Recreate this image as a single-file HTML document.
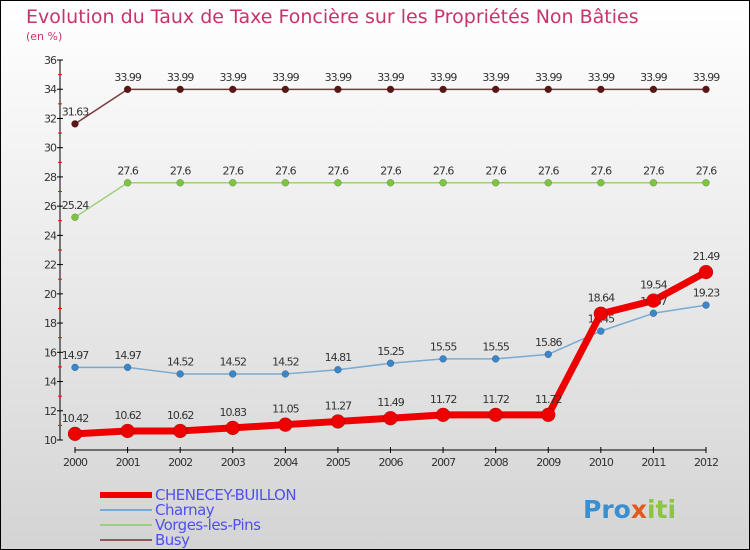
<!DOCTYPE html>
<html><head><meta charset="utf-8"><style>
body{margin:0}
#c{width:750px;height:550px;position:relative;overflow:hidden}
svg text{font-family:"DejaVu Sans","Liberation Sans",sans-serif}
</style></head><body>
<div id="c">
<svg id="s" width="750" height="550" xmlns="http://www.w3.org/2000/svg">
<defs><linearGradient id="bg" x1="0" y1="0" x2="0" y2="1"><stop offset="0" stop-color="#ffffff"/><stop offset="1" stop-color="#d4d4d4"/></linearGradient></defs>
<rect x="0.5" y="0.5" width="749" height="549" fill="url(#bg)" stroke="#000"/>
<text x="26" y="23" font-size="19" fill="#c8336a">Evolution du Taux de Taxe Foncière sur les Propriétés Non Bâties</text>
<text x="26" y="40" font-size="11" fill="#c8336a">(en %)</text>
<g id="axes"></g><g id="series"></g><g id="legend"></g>
<text x="583" y="518" font-size="25" font-weight="bold" fill="#3a8fd0">Pro<tspan fill="#e05a20">x</tspan><tspan fill="#8cc63e">iti</tspan></text>
</svg></div>
<script>
const years=["2000","2001","2002","2003","2004","2005","2006","2007","2008","2009","2010","2011","2012"];
const yTicks=[10,12,14,16,18,20,22,24,26,28,30,32,34,36];
const chenecey=[10.42,10.62,10.62,10.83,11.05,11.27,11.49,11.72,11.72,11.72,18.64,19.54,21.49];
const charnay=[14.97,14.97,14.52,14.52,14.52,14.81,15.25,15.55,15.55,15.86,17.45,18.67,19.23];
const vorges=[25.24,27.6,27.6,27.6,27.6,27.6,27.6,27.6,27.6,27.6,27.6,27.6,27.6];
const busy=[31.63,33.99,33.99,33.99,33.99,33.99,33.99,33.99,33.99,33.99,33.99,33.99,33.99];
const NS="http://www.w3.org/2000/svg";
const x=i=>75+i*(706-75)/(years.length-1);
const y=v=>440-(v-10)*(380/26);
function mk(t,a,p){const e=document.createElementNS(NS,t);for(const k in a)e.setAttribute(k,a[k]);p.appendChild(e);return e;}
const ax=document.getElementById('axes');
let e=mk('line',{x1:60,y1:60,x2:60,y2:440,stroke:'#000'},ax);

yTicks.forEach(v=>{mk('line',{x1:57,x2:63,y1:y(v),y2:y(v),stroke:'#000'},ax);
 if(v<36)mk('line',{x1:58,x2:62,y1:y(v+1),y2:y(v+1),stroke:'#f00'},ax);
 const t=mk('text',{x:56,y:y(v)+4,'font-size':11,'text-anchor':'end',fill:'#333','letter-spacing':'-1'},ax);t.textContent=v;
 });
e=mk('line',{x1:75,y1:450,x2:706,y2:450,stroke:'#000'},ax);

years.forEach((yr,i)=>{mk('line',{x1:x(i),x2:x(i),y1:447,y2:453,stroke:'#000'},ax);
 const t=mk('text',{x:x(i),y:466,'font-size':11,'text-anchor':'middle',fill:'#333','letter-spacing':'-1'},ax);t.textContent=yr;
 });
const S=document.getElementById('series');
const defs=[[busy,'#7a3a3a','#5a1515',1.5,3.5,'busy'],[vorges,'#9ed07a','#7cc441',1.5,3.5,'vorges-les-pins'],[charnay,'#7aaad0','#3a86c8',1.5,3.5,'charnay'],[chenecey,'#ee0000','#ee0000',7,7,'chenecey-buillon']];
defs.forEach(([d,lc,pc,w,r,n])=>{const g=mk('g',{},S);
 
 const l=mk('polyline',{points:d.map((v,i)=>x(i)+','+y(v)).join(' '),fill:'none',stroke:lc,'stroke-width':w,'stroke-linejoin':'round'},g);
 
 d.forEach((v,i)=>{const c=mk('circle',{cx:x(i),cy:y(v),r:r,fill:pc,stroke:'rgba(0,0,0,0.3)','stroke-width':0.5},g);
  
  const t=mk('text',{x:x(i),y:y(v)-(r+5),'font-size':11,'text-anchor':'middle',fill:'#333','letter-spacing':'-1'},g);t.textContent=v;
  });});
const L=document.getElementById('legend');
[['CHENECEY-BUILLON','#ee0000',6],['Charnay','#7aaad0',2],['Vorges-les-Pins','#9ed07a',2],['Busy','#8a5a5a',2]].forEach(([n,c,w],i)=>{
 const yy=493+i*15;const g=mk('g',{},L);
 
 mk('line',{x1:100,x2:152,y1:yy+2,y2:yy+2,stroke:c,'stroke-width':w},g);
 const t=mk('text',{x:155,y:yy+7,'font-size':15,fill:'#5050ee','letter-spacing':'-0.5'},g);t.textContent=n;});
</script></body></html>
